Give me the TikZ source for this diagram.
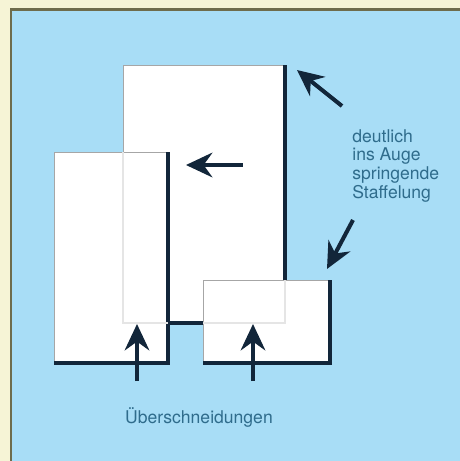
\documentclass[tikz,border=0pt]{standalone}
\usepackage{fontspec}
\setmainfont{TeX Gyre Heros}
\usetikzlibrary{arrows.meta}
\definecolor{cream}{HTML}{F6F4D6}
\definecolor{frameol}{HTML}{6E6C4C}
\definecolor{sky}{HTML}{A8DDF6}
\definecolor{ink}{HTML}{12263A}
\definecolor{lettering}{HTML}{2F6C8C}
\tikzset{
	sheet/.style={draw=gray!70, line width=0.5pt, fill=white, inner sep=0pt, outer sep=0pt},
	shade/.style={draw=ink, line width=1.8pt},
	ghost/.style={draw=gray!20, line width=0.6pt},
	pointer/.style={-{Stealth[length=15pt, width=14pt, inset=5pt]}, line width=2.3pt, draw=ink},
	caption/.style={text=lettering, font=\fontsize{10}{10.6}\selectfont, inner sep=0pt}
}
\begin{document}
\begin{tikzpicture}[x=0.02cm, y=-0.02cm]
				\useasboundingbox (0,0) rectangle (460,461);
				\fill[cream] (0,0) rectangle (460,461);
				\fill[sky] (11,9) rectangle (460,461);
				\draw[frameol, line width=1.7pt] (11,461) -- (11,9) -- (460,9);
				% the three sheets
				\node[sheet, minimum width=3.24cm, minimum height=5.16cm] (tall) at (204,194) {};
				\draw[shade] (tall.north east) -- (tall.south east) -- (tall.south west);
				\node[sheet, minimum width=2.28cm, minimum height=4.22cm] (left) at (111,257.5) {};
				\draw[shade] (left.north east) -- (left.south east) -- (left.south west);
				\node[sheet, minimum width=2.54cm, minimum height=1.66cm] (small) at (266.5,321.5) {};
				\draw[shade] (small.north east) -- (small.south east) -- (small.south west);
				% edges of the tall sheet seen through the others
				\draw[ghost] (tall.west |- left.north) -- (tall.south west) -- (tall.south -| left.east);
				\draw[ghost] (tall.south -| small.west) -- (tall.south east) -- (tall.east |- small.north);
				% arrows
				\coordinate (p1a) at (342,106);
				\coordinate (p1b) at (297,70);
				\coordinate (p2a) at (243,165);
				\coordinate (p2b) at (186,165);
				\coordinate (p3a) at (353,220);
				\coordinate (p3b) at (327,269);
				\coordinate (p4a) at (137,381);
				\coordinate (p4b) at (137,324);
				\coordinate (p5a) at (253,381);
				\coordinate (p5b) at (253,324);
				\draw[pointer] (p1a) -- (p1b);
				\draw[pointer] (p2a) -- (p2b);
				\draw[pointer] (p3a) -- (p3b);
				\draw[pointer] (p4a) -- (p4b);
				\draw[pointer] (p5a) -- (p5b);
				% labels
				\node[caption, anchor=north west, align=left] (stagger) at (352,129) {deutlich\\ins Auge\\springende\\Staffelung};
				\node[caption] (overlap) at (199,417) {Überschneidungen};
		\end{tikzpicture}
\end{document}
